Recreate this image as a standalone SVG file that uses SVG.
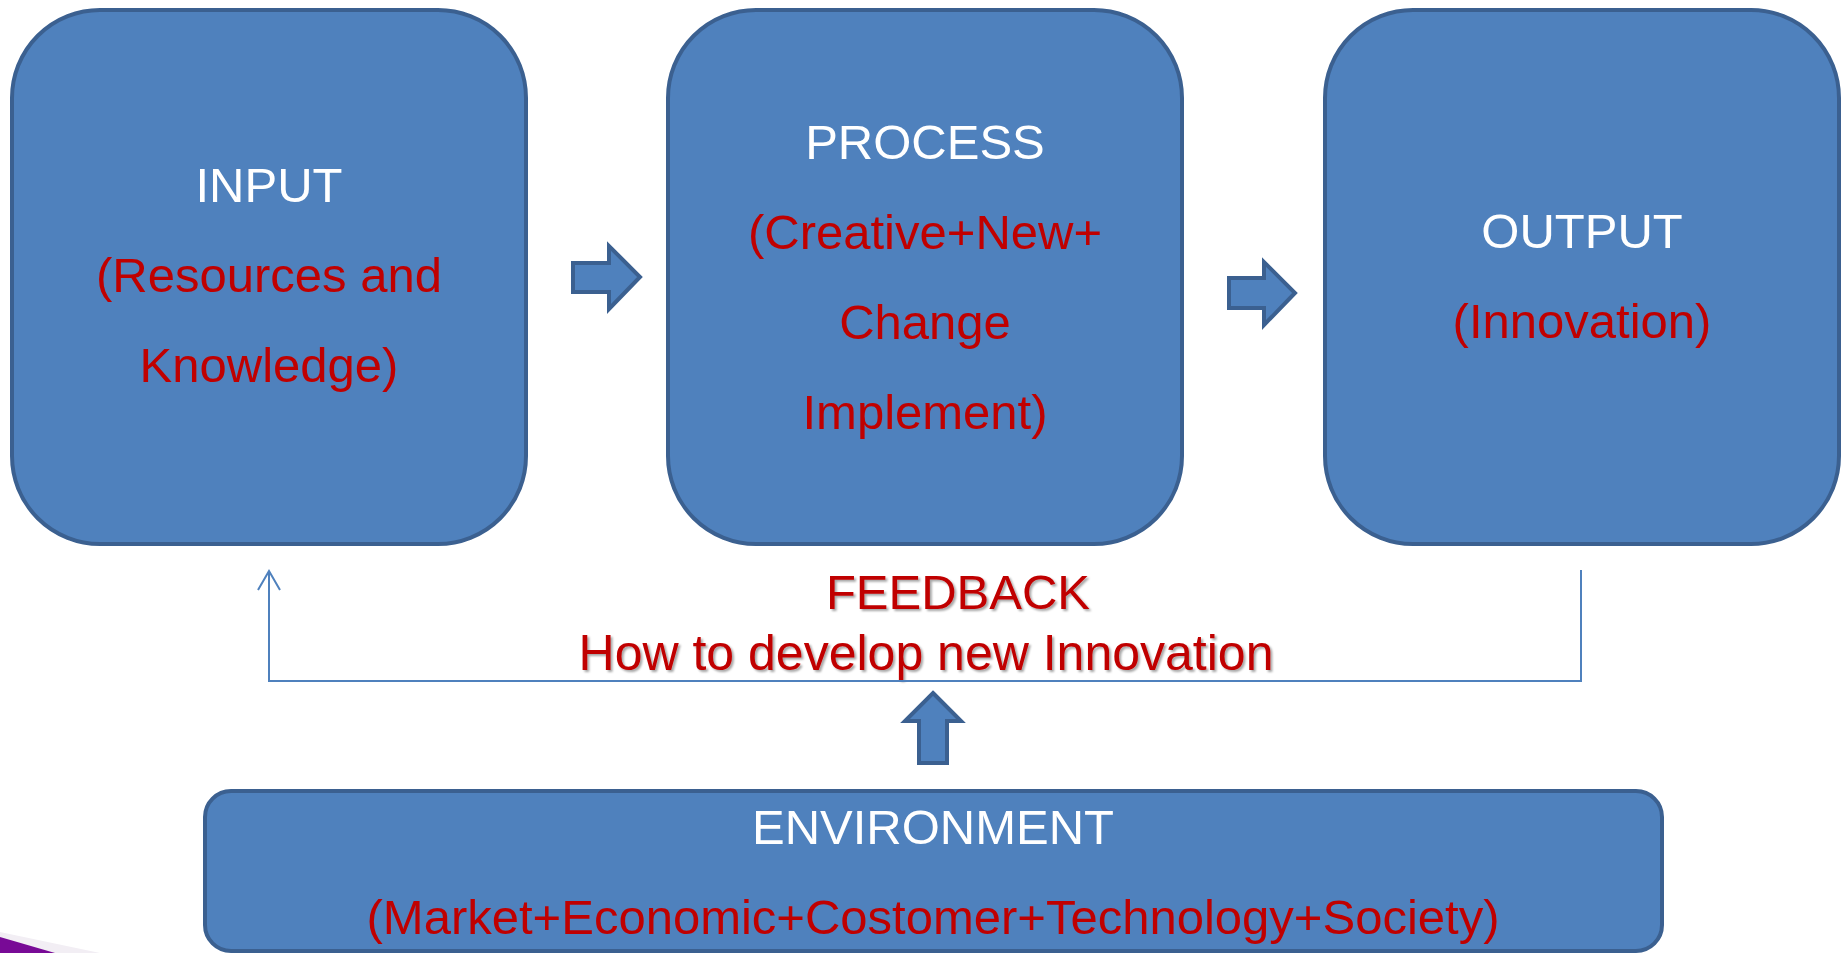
<svg xmlns="http://www.w3.org/2000/svg" width="1843" height="953" viewBox="0 0 1843 953">
<style>
.box{fill:#4F81BD;stroke:#3B6090;stroke-width:4}
.blk{fill:#4F81BD;stroke:#3B6090;stroke-width:4;stroke-linejoin:miter}
.t{font-family:"Liberation Sans",Arial,sans-serif;font-size:49px;text-anchor:middle}
.w{fill:#FFFFFF}
.r{fill:#C00000}
.fb{stroke:#4F81BD;stroke-width:2;fill:none}
</style>
<defs>
<filter id="sh" x="-5%" y="-20%" width="110%" height="150%">
<feDropShadow dx="2" dy="2" stdDeviation="1.2" flood-color="#000000" flood-opacity="0.35"/>
</filter>
</defs>
<rect width="1843" height="953" fill="#FFFFFF"/>
<g id="swoosh">
<polygon points="0,932 100,953 0,953" fill="#F2EEF4"/>
<polygon points="0,937 55,953 0,953" fill="#780A96"/>
</g>
<g id="input">
<rect class="box" x="12" y="10" width="514" height="534" rx="88" ry="88"/>
<text class="t w" x="269" y="202">INPUT</text>
<text class="t r" x="269" y="292">(Resources and</text>
<text class="t r" x="269" y="382">Knowledge)</text>
</g>
<g id="process">
<rect class="box" x="668" y="10" width="514" height="534" rx="88" ry="88"/>
<text class="t w" x="925" y="159">PROCESS</text>
<text class="t r" x="925" y="249">(Creative+New+</text>
<text class="t r" x="925" y="339">Change</text>
<text class="t r" x="925" y="429">Implement)</text>
</g>
<g id="output">
<rect class="box" x="1325" y="10" width="514" height="534" rx="88" ry="88"/>
<text class="t w" x="1582" y="248">OUTPUT</text>
<text class="t r" x="1582" y="338">(Innovation)</text>
</g>
<g id="environment">
<rect class="box" x="205" y="791" width="1457" height="160" rx="26" ry="26"/>
<text class="t w" x="933" y="844">ENVIRONMENT</text>
<text class="t r" x="933" y="934">(Market+Economic+Costomer+Technology+Society)</text>
</g>
<g id="feedback-label" filter="url(#sh)">
<text class="t r" x="958" y="609">FEEDBACK</text>
<text class="t r" x="926" y="670" style="font-size:50px">How to develop new Innovation</text>
</g>
<g id="connectors">
<polygon class="blk" points="573,263 609,263 609,246 640,277 609,309 609,292 573,292"/>
<polygon class="blk" points="1229,278 1264,278 1264,262 1295,293 1264,325 1264,308 1229,308"/>
<polygon class="blk" points="933,693 961,721 947,721 947,763 919,763 919,721 905,721"/>
<polyline class="fb" points="1581,570 1581,681 269,681 269,571"/>
<polyline class="fb" points="258,590 269,571 280,590"/>
</g>
</svg>
